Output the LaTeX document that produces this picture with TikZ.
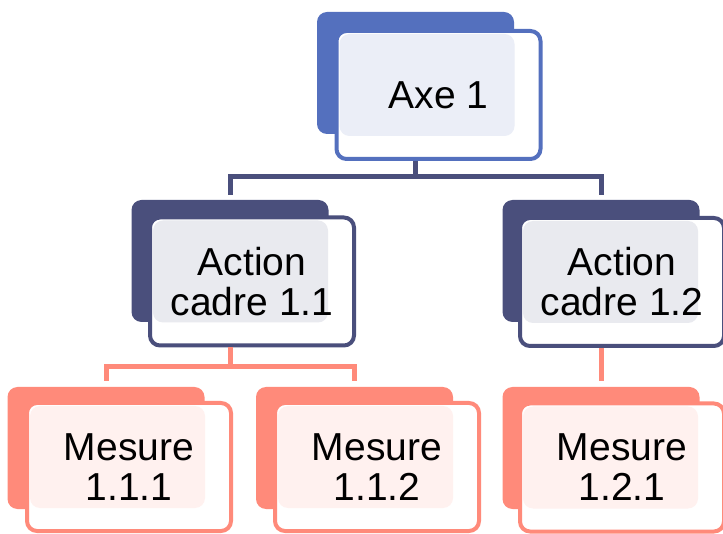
\documentclass[tikz,border=0pt]{standalone}
\usepackage{fontspec}
\setmainfont{Liberation Sans}
\definecolor{axeblue}{RGB}{84,112,190}
\definecolor{navy}{RGB}{74,79,124}
\definecolor{salmon}{RGB}{255,138,122}
\tikzset{
  x=1pt,y=1pt,
  backbox/.style={rounded corners=10pt, minimum width=197pt, minimum height=122pt, inner sep=0pt, fill=#1},
  frontbox/.style={rounded corners=10pt, draw=#1, line width=4pt, fill=white,
    minimum width=204pt, minimum height=128pt, inner sep=0pt, align=center,
    font=\fontsize{39}{40}\selectfont,
    path picture={\fill[#1!12] ([shift={(3pt,-3pt)}]path picture bounding box.north west) rectangle ([shift={(-26pt,23pt)}]path picture bounding box.south east);}},
  conn/.style={draw=#1, line width=5pt}
}
\begin{document}
\begin{tikzpicture}
\useasboundingbox (0,0) rectangle (723,533);
% back boxes
\node[backbox=axeblue] (axeb) at (415.5,460) {};
\node[backbox=navy] (ac11b) at (230,272) {};
\node[backbox=navy] (ac12b) at (601,272) {};
\node[backbox=salmon] (m111b) at (106,85) {};
\node[backbox=salmon] (m112b) at (354.5,85) {};
\node[backbox=salmon] (m121b) at (601,85) {};
% front boxes
\node[frontbox=axeblue] (axe) at (438.5,438) {Axe 1};
\node[frontbox=navy] (ac11) at (252,251.5) {Action\\cadre 1.1};
\node[frontbox=navy] (ac12) at (622,251) {Action\\cadre 1.2};
\node[frontbox=salmon] (m111) at (129,66) {Mesure\\1.1.1};
\node[frontbox=salmon] (m112) at (377,66) {Mesure\\1.1.2};
\node[frontbox=salmon] (m121) at (622,65.5) {Mesure\\1.2.1};
% connectors
\coordinate (busA) at (0,356);
\coordinate (busB) at (0,166);
\draw[conn=navy] (axeb |- axe.south) -- (axeb |- busA) -| ([yshift=5pt]ac11b.north);
\draw[conn=navy] (axeb |- busA) -| ([yshift=5pt]ac12b.north);
\draw[conn=salmon] (ac11b |- ac11.south) -- (ac11b |- busB) -| ([yshift=6pt]m111b.north);
\draw[conn=salmon] (ac11b |- busB) -| ([yshift=6pt]m112b.north);
\draw[conn=salmon] (ac12b |- ac12.south) -- ([yshift=6pt]m121b.north);
\end{tikzpicture}
\end{document}
